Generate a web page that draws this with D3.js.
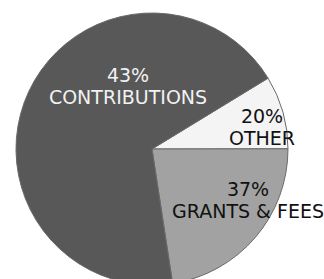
<!DOCTYPE html>
<html>
<head>
<meta charset="utf-8">
<script src="https://cdn.jsdelivr.net/npm/d3@7"></script>
<style>
  body { margin: 0; background: #fff; }
  svg { display: block; }
</style>
</head>
<body>
<script>
(function() {

    // slice names, printed percentages and the slice sizes as drawn (share of the circle)
    var categories = ["OTHER", "GRANTS & FEES", "CONTRIBUTIONS"],
        pctLabels = ["20%", "37%", "43%"],
        sliceValues = [8.7, 22.6, 68.7];

    var colors = ["#f4f4f4", "#a2a2a2", "#585858"],
        textColors = ["#111", "#111", "#f2f2f2"];

    // label anchor (center x, first baseline) relative to pie center
    var labelOffsets = [[110, -26], [96, 47], [-24, -67]];

    var width = 324,
        height = 279,
        cx = 152,
        cy = 149,
        radius = 136;

    var svg = d3.select("body")
        .append("svg")
        .attr("width", width)
        .attr("height", height);

    var g = svg.append("g")
        .attr("transform", "translate(" + cx + "," + cy + ")");

    var pie = d3.pie()
        .sort(null)
        .value(function(d) { return d; })
        .startAngle(58.6 * Math.PI / 180)
        .endAngle(58.6 * Math.PI / 180 + 2 * Math.PI);

    var arc = d3.arc().innerRadius(0).outerRadius(radius);

    var arcs = pie(sliceValues);

    g.selectAll("path")
        .data(arcs)
        .enter()
        .append("path")
        .attr("d", arc)
        .attr("fill", function(d, i) { return colors[i]; })
        .attr("stroke", "#6a6a6a")
        .attr("stroke-width", 1);

    var labels = g.selectAll("text")
        .data(arcs)
        .enter()
        .append("text")
        .attr("text-anchor", "middle")
        .attr("font-family", "Verdana, 'DejaVu Sans', sans-serif")
        .attr("font-size", 19)
        .attr("fill", function(d, i) { return textColors[i]; })
        .attr("x", function(d, i) { return labelOffsets[i][0]; })
        .attr("y", function(d, i) { return labelOffsets[i][1]; });

    labels.append("tspan")
        .attr("x", function(d, i) { return labelOffsets[i][0]; })
        .text(function(d, i) { return pctLabels[i]; });

    labels.append("tspan")
        .attr("x", function(d, i) { return labelOffsets[i][0]; })
        .attr("dy", 21.5)
        .text(function(d, i) { return categories[i]; });

})();
</script>
</body>
</html>
